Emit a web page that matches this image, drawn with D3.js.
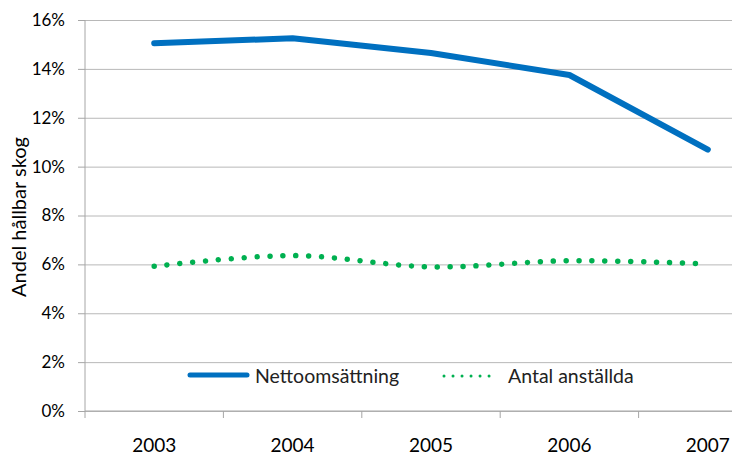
<!DOCTYPE html>
<html><head><meta charset="utf-8">
<script src="https://cdn.jsdelivr.net/npm/d3@7"></script>
<style>
html,body{margin:0;padding:0;background:#fff;}
svg{display:block;font-family:Lato,"Open Sans",sans-serif;}
</style></head>
<body>
<svg id="c" width="732" height="456"></svg>
<script>
const years = ["2003", "2004", "2005", "2006", "2007"];
const netto = [15.05, 15.25, 14.65, 13.75, 10.7];
const anstallda = [5.92, 6.36, 5.9, 6.15, 6.02];
const yTicks = [0, 2, 4, 6, 8, 10, 12, 14, 16];
const seriesNames = ["Nettoomsättning", "Antal anställda"];
const yTitle = "Andel hållbar skog";

(function () {
const W = 732, H = 456;
const mLeft = 85, mTop = 20, mBottom = 411, plotRight = 777;
const svg = d3.select("#c");

const x = d3.scaleBand().domain(years).range([mLeft, plotRight]);
const xc = d => x(d) + x.bandwidth() / 2;
const y = d3.scaleLinear().domain([0, 16]).range([mBottom, mTop]);

// gridlines
svg.append("g").attr("transform", `translate(${mLeft},0)`)
  .call(d3.axisLeft(y).tickValues(yTicks).tickSize(-(W - mLeft)).tickFormat(""))
  .call(g => g.select(".domain").remove())
  .call(g => g.selectAll("line").attr("stroke", "#b8b8b8").attr("stroke-width", 1));

// y axis
const ya = svg.append("g").attr("transform", `translate(${mLeft},0)`)
  .call(d3.axisLeft(y).tickValues(yTicks).tickSize(7).tickPadding(13).tickFormat(d => d + "%"));
ya.select(".domain").attr("stroke", "#a6a6a6").attr("d", `M0,${mTop}V${mBottom}`);
ya.selectAll("line").attr("stroke", "#a6a6a6");
ya.selectAll("text").attr("font-size", 17).attr("fill", "#000").attr("font-family", "Lato, sans-serif");

// x axis
const xa = svg.append("g").attr("transform", `translate(0,${mBottom})`)
  .call(d3.axisBottom(x).tickSize(0).tickPadding(28));
xa.select(".domain").attr("stroke", "#a6a6a6").attr("d", `M${mLeft},0H${W}`);
xa.selectAll("text").attr("font-size", 19).attr("fill", "#000").attr("font-family", "Lato, sans-serif");
xa.selectAll(".edge").data(years).enter().append("line").attr("class", "edge")
  .attr("x1", d => x(d)).attr("x2", d => x(d)).attr("y1", 0).attr("y2", 7)
  .attr("stroke", "#a6a6a6");

// y title
svg.append("text").attr("transform", `translate(26,217) rotate(-90)`)
  .attr("text-anchor", "middle").attr("font-size", 20).attr("fill", "#000")
  .text(yTitle);

// lines
const lineLin = d3.line().x((d, i) => xc(years[i])).y(d => y(d));
const lineSmooth = d3.line().x((d, i) => xc(years[i])).y(d => y(d)).curve(d3.curveCardinal.tension(0));

svg.append("path").datum(anstallda).attr("d", lineSmooth)
  .attr("fill", "none").attr("stroke", "#00b050").attr("stroke-width", 5.5)
  .attr("stroke-linecap", "round").attr("stroke-dasharray", "0.01 12.9");

svg.append("path").datum(netto).attr("d", lineLin)
  .attr("fill", "none").attr("stroke", "#0070c0").attr("stroke-width", 6)
  .attr("stroke-linecap", "round").attr("stroke-linejoin", "round");

// legend
const lg = svg.append("g");
lg.append("line").attr("x1", 190).attr("x2", 247).attr("y1", 375).attr("y2", 375)
  .attr("stroke", "#0070c0").attr("stroke-width", 5).attr("stroke-linecap", "round");
lg.append("text").attr("x", 255).attr("y", 383).attr("font-size", 19.5).attr("fill", "#222").text(seriesNames[0]);
lg.append("line").attr("x1", 444).attr("x2", 498).attr("y1", 376).attr("y2", 376)
  .attr("stroke", "#00b050").attr("stroke-width", 3).attr("stroke-linecap", "round")
  .attr("stroke-dasharray", "0.01 9");
lg.append("text").attr("x", 508).attr("y", 383).attr("font-size", 19.5).attr("fill", "#222").text(seriesNames[1]);
})();
</script>
</body></html>
